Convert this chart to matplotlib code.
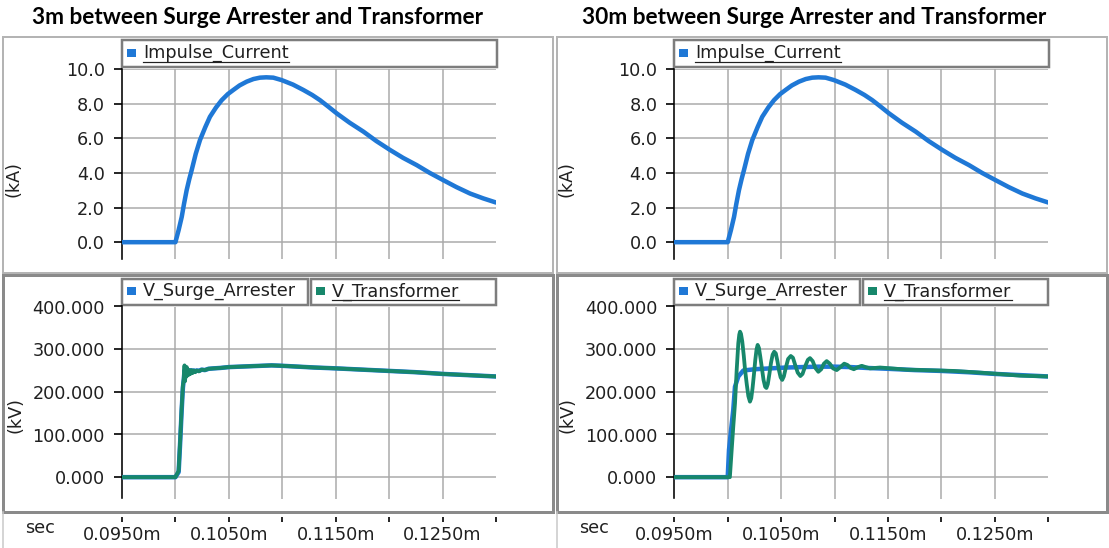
import numpy as np
import matplotlib.pyplot as plt
from matplotlib.patches import Rectangle
from matplotlib.ticker import FixedLocator, FuncFormatter

plt.rcParams['font.family'] = ['DejaVu Sans']

W, H = 1109, 548
PT = 0.72  # points per pixel at dpi 100

# ---- data (time in ms) ----
t_cur = [0.0950, 0.1000, 0.1003, 0.10059, 0.1008, 0.10105, 0.1013, 0.10152, 0.1019, 0.1023,
         0.1028, 0.10323, 0.1038, 0.10433, 0.1049, 0.10542, 0.1060, 0.10667, 0.1073, 0.10791,
         0.1085, 0.10916, 0.10994, 0.1110, 0.11197, 0.1128, 0.11353, 0.1143, 0.11509, 0.1163,
         0.1176, 0.1188, 0.1201, 0.1213, 0.12258, 0.1238, 0.12507, 0.1263, 0.12757, 0.1288,
         0.1300]
i_cur = [0, 0, 0.7, 1.46, 2.2, 3.0, 3.65, 4.16, 5.1, 5.9,
         6.65, 7.24, 7.78, 8.2, 8.55, 8.79, 9.05, 9.27, 9.42, 9.5,
         9.52, 9.5, 9.36, 9.1, 8.79, 8.5, 8.2, 7.83, 7.44, 6.9,
         6.38, 5.84, 5.32, 4.87, 4.45, 4.0, 3.58, 3.18, 2.81, 2.53,
         2.29]

# 3m case
t_v3 = [0.0950, 0.1000, 0.10030, 0.10045, 0.10058, 0.10070, 0.10078, 0.10085, 0.10090,
        0.10095, 0.10100, 0.10106, 0.10112, 0.10118, 0.10125, 0.10132, 0.10140, 0.10150,
        0.10160, 0.10172, 0.10185, 0.10200, 0.10220, 0.10245, 0.10275, 0.10310, 0.10360,
        0.10420, 0.10500, 0.10600, 0.10700, 0.10800, 0.10900, 0.11000, 0.11150, 0.11300,
        0.11500, 0.11750, 0.12000, 0.12250, 0.12500, 0.12750, 0.13000]
v_sa3 = [0, 0, 12, 85, 155, 210, 228, 250, 238, 250, 242, 254, 244, 250, 245, 250, 246,
         250, 247, 250, 248, 250, 249, 252, 251, 254, 255, 256, 258, 259, 260, 261, 262,
         261, 259, 257, 255, 252, 249, 246, 242, 239, 236]
v_tr3 = [0, 0, 15, 90, 160, 215, 230, 262, 225, 255, 235, 258, 238, 252, 240, 250, 242,
         251, 244, 250, 246, 250, 248, 252, 251, 254, 255, 256, 258, 259, 260, 261, 262,
         261, 259, 257, 255, 252, 249, 246, 242, 239, 236]

# 30m case
t_sa30 = [0.0950, 0.1000, 0.10012, 0.10028, 0.10052, 0.10068, 0.10099, 0.10146, 0.10255,
          0.10400, 0.10550, 0.10700, 0.10850, 0.11000, 0.11150, 0.11300, 0.11500, 0.11750,
          0.12000, 0.12250, 0.12500, 0.12750, 0.13000]
v_sa30 = [0, 0, 64, 103, 158, 212, 236, 250, 253, 255, 257, 258, 259, 259, 258, 256, 254,
          251, 249, 246, 242, 239, 236]
t_tr30 = [0.0950, 0.10020, 0.10037, 0.10052, 0.10068, 0.10084, 0.10099, 0.10108, 0.10115,
          0.10124, 0.10136, 0.10150, 0.10162, 0.10178, 0.10193, 0.10208, 0.10220, 0.10232,
          0.10245, 0.10258, 0.10270, 0.10280, 0.10292, 0.10305, 0.10320, 0.10335, 0.10350,
          0.10362, 0.10375, 0.10390, 0.10405, 0.10420, 0.10435, 0.10450, 0.10465, 0.10480,
          0.10495, 0.10510, 0.10525, 0.10545, 0.10565, 0.10590, 0.10610, 0.10630, 0.10655,
          0.10680, 0.10700, 0.10725, 0.10750, 0.10770, 0.10795, 0.10820, 0.10848, 0.10875,
          0.10900, 0.10926, 0.10955, 0.10985, 0.11020, 0.11055, 0.11090, 0.11120, 0.11150,
          0.11180, 0.11220, 0.11254, 0.11290, 0.11331, 0.11425, 0.11675, 0.12111, 0.12423,
          0.12735, 0.13000]
v_tr30 = [0, 0, 64, 119, 173, 252, 314, 334, 341,
          336, 318, 285, 252, 218, 190, 177, 185, 208,
          240, 275, 300, 310, 303, 282, 255, 228, 212,
          209, 218, 242, 268, 287, 294, 290, 272, 250,
          234, 228, 236, 258, 277, 284, 280, 264, 245,
          237, 242, 260, 275, 279, 272, 256, 247, 253,
          266, 272, 266, 255, 251, 258, 266, 263, 256,
          253, 258, 261, 258, 255, 257, 252, 249, 244,
          238, 236]

x_ticks = [0.095, 0.100, 0.105, 0.110, 0.115, 0.120, 0.125, 0.130]
x_grid = [0.100, 0.105, 0.110, 0.115, 0.120, 0.125]
x_labels = ['0.0950m', '', '0.1050m', '', '0.1150m', '', '0.1250m', '']
i_ticks = [0, 2, 4, 6, 8, 10]
v_ticks = [0, 100, 200, 300, 400]

titles = ['3m between Surge Arrester and Transformer',
          '30m between Surge Arrester and Transformer']

BLUE = '#1f78d6'
GREEN = '#17876b'
GRID = '#a9a9a9'
TXT = '#202020'
FS = 12.7

fig = plt.figure(figsize=(W / 100, H / 100), dpi=100)
bg = fig.add_axes([0, 0, 1, 1], zorder=0)
bg.set_xlim(0, W)
bg.set_ylim(H, 0)
bg.axis('off')


def box(x0, y0, x1, y1):
    return [x0 / W, 1 - y1 / H, (x1 - x0) / W, (y1 - y0) / H]


def style_axes(ax, yticks, fmt, ylim, show_x):
    ax.set_facecolor('none')
    ax.set_xlim(0.095, 0.130)
    ax.set_ylim(*ylim)
    for s in ['top', 'right']:
        ax.spines[s].set_visible(False)
    ax.spines['left'].set_linewidth(1.6 * PT)
    ax.spines['left'].set_color('black')
    ax.spines['bottom'].set_color('none')
    ax.spines['bottom'].set_position(('outward', 18 * PT))
    ax.yaxis.set_major_locator(FixedLocator(yticks))
    ax.yaxis.set_major_formatter(FuncFormatter(lambda v, p: fmt % v))
    ax.tick_params(axis='y', length=8 * PT, width=1.2, pad=9 * PT,
                   labelsize=FS, labelcolor=TXT)
    ax.xaxis.set_major_locator(FixedLocator(x_ticks))
    if show_x:
        ax.set_xticklabels(x_labels)
        ax.tick_params(axis='x', length=5 * PT, width=1.2, pad=4 * PT,
                       labelsize=FS, labelcolor=TXT)
    else:
        ax.tick_params(axis='x', length=0, labelbottom=False)
    for x in x_grid:
        ax.axvline(x, color=GRID, lw=1.5 * PT, zorder=0)
    for y in yticks:
        ax.axhline(y, color=GRID, lw=1.5 * PT, zorder=0)


def legend_box(x0, x1, y0, y1, label, color, underline):
    bg.add_patch(Rectangle((x0, y0), x1 - x0, y1 - y0, fc='white', ec='#7d7d7d',
                           lw=2.5 * PT, zorder=3))
    ym = (y0 + y1) / 2
    bg.add_patch(Rectangle((x0 + 5, ym - 5), 9, 8, fc=color, ec='none', zorder=4))
    txt = bg.text(x0 + 21, ym - 0.5, label, va='center', ha='left', fontsize=FS,
                  color=TXT, zorder=4)
    if underline:
        fig.canvas.draw()
        bb = txt.get_window_extent(fig.canvas.get_renderer())
        xa = bg.transData.inverted().transform((bb.x0, 0))[0]
        xb = bg.transData.inverted().transform((bb.x1, 0))[0]
        bg.plot([xa, xb], [ym + 8, ym + 8], color=TXT, lw=1.2 * PT, zorder=4)


cols = [
    dict(off=0, frame=(3, 553), sa=(t_v3, v_sa3), tr=(t_v3, v_tr3), title_x=257),
    dict(off=552.3, frame=(557, 1107), sa=(t_sa30, v_sa30), tr=(t_tr30, v_tr30), title_x=814),
]

for k, c in enumerate(cols):
    o = c['off']
    fx0, fx1 = c['frame']
    # panel frames
    bg.add_patch(Rectangle((fx0, 37), fx1 - fx0, 236, fill=False, ec='#b4b4b4', lw=2 * PT))
    bg.add_patch(Rectangle((fx0, 275), fx1 - fx0, 237, fill=False, ec='#8a8a8a', lw=3 * PT))
    bg.plot([fx0, fx0], [512, H], color='#c8c8c8', lw=1.5 * PT)

    bg.text(c['title_x'], 24.5, titles[k], ha='center', va='baseline',
            fontsize=16.3, fontweight='bold', family=['Lato', 'DejaVu Sans'])

    ax1 = fig.add_axes(box(122 + o, 69, 496 + o, 259.5), zorder=2)
    style_axes(ax1, i_ticks, '%.1f', (-1, 10), False)
    ax1.plot(t_cur, i_cur, color=BLUE, lw=4.5 * PT, solid_capstyle='round',
             solid_joinstyle='round', zorder=3)

    ax2 = fig.add_axes(box(122 + o, 306.5, 496 + o, 498.5), zorder=2)
    style_axes(ax2, v_ticks, '%.3f', (-50, 400), True)
    ax2.plot(*c['sa'], color=BLUE, lw=4.5 * PT, solid_capstyle='round',
             solid_joinstyle='round', zorder=3)
    ax2.plot(*c['tr'], color=GREEN, lw=3.8 * PT, solid_capstyle='round',
             solid_joinstyle='round', zorder=4)

    bg.text(14 + o, 179, '(kA)', rotation=90, ha='center', va='center',
            fontsize=FS, color=TXT)
    bg.text(15 + o, 415, '(kV)', rotation=90, ha='center', va='center',
            fontsize=FS, color=TXT)
    bg.text(40 + fx0 - 3, 528, 'sec', ha='center', va='center', fontsize=FS, color=TXT)

    legend_box(122 + o, 497 + o, 40, 67, 'Impulse_Current', BLUE, True)
    legend_box(122 + o, 308 + o, 279, 305, 'V_Surge_Arrester', BLUE, False)
    legend_box(311 + o, 496 + o, 279, 305, 'V_Transformer', GREEN, True)

fig.savefig('out.png', dpi=100)
